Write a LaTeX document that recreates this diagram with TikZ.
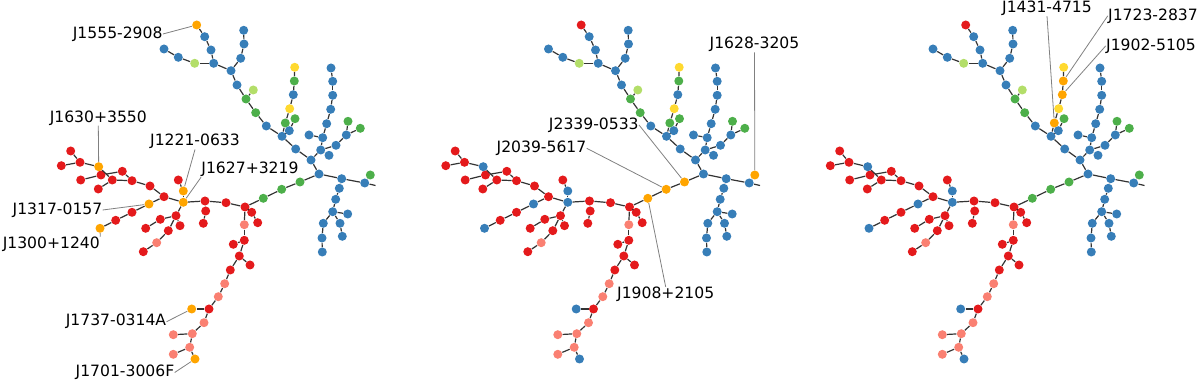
\documentclass[tikz,border=0pt]{standalone}
\usepackage{fontspec}
\setmainfont{DejaVu Sans}
\usetikzlibrary{positioning}
\definecolor{pBlue}{HTML}{377EB8}
\definecolor{pRed}{HTML}{E41A1C}
\definecolor{pGreen}{HTML}{4DAF4A}
\definecolor{pOrange}{HTML}{FFA500}
\definecolor{pYellow}{HTML}{FFD92F}
\definecolor{pLime}{HTML}{B3DE69}
\definecolor{pSalmon}{HTML}{FA8072}

\begin{document}
\begin{tikzpicture}[x=0.5pt,y=-0.5pt,
    dot/.style={circle,inner sep=0pt,minimum size=4.5pt},
    link/.style={line width=0.6pt,draw=black!80},
    leader/.style={line width=0.4pt,draw=black!50},
    tag/.style={inner sep=0pt,font=\fontsize{7.8}{9}\selectfont}
]
\useasboundingbox (0,0) rectangle (1200,384);
\foreach \p/\dx/\cA/\cB/\cC/\cG/\cH in {A/0/pOrange/pOrange/pGreen/pGreen/pBlue,
    B/384.5/pRed/pBlue/pOrange/pGreen/pBlue, C/769/pRed/pBlue/pGreen/pOrange/pOrange}{
\begin{scope}[shift={(\dx,0)}]
  \foreach \n/\x/\y/\col in {a1/196.7/25/\cA, a2/204.7/36.7/pBlue, a3/211/50/pBlue,
      a4/213.7/63.3/pBlue, a5/194.7/63.3/pLime, a6/178.3/57.3/pBlue, a7/164/49/pBlue,
      b1/243.7/30.3/pBlue, b2/244/44/pBlue, b3/240.7/58.3/pBlue, b4/231/70.7/pBlue,
      c1/237/85/pBlue, c2/246/99/pGreen, c3/253.3/90/pLime, c4/255.7/112.7/pGreen,
      c5/266.3/126/pBlue, c6/282/136.3/pBlue,
      d1/294.7/67.3/pYellow, d2/294.3/81/\cG, d3/293.3/94.7/\cH, d4/289.7/108.7/pYellow,
      d5/285.3/123/\cG, e1/295/118.7/pGreen, e2/289.3/130.7/pBlue,
      f1/295.7/149/pBlue, f2/311/160/pBlue, f3/319/174/pBlue,
      g1/331/68/pBlue, g2/332.7/81.3/pBlue, g3/332.7/95.3/pBlue, g4/330.7/109.3/pBlue,
      g5/326.7/123.7/pBlue, g6/322.7/137.7/pBlue, g7/320.7/150/pBlue,
      h1/309/135/pBlue, h2/329/155.3/pBlue,
      i1/336/145.3/pBlue, i2/346.3/135/pBlue, i3/348/121.3/pGreen, i4/360.3/128.3/pGreen,
      j1/341.7/178.7/pBlue, j2/339.3/188.3/pBlue, j3/364.7/183/pBlue, j4/370.3/175/\cC,
      j5/335.7/199.3/pBlue, j6/332.7/211.7/pBlue, j7/347.7/214/pBlue, j8/323.3/223.3/pBlue,
      j9/322/238/pBlue, j10/322.3/252/pBlue, j11/340/223.3/pBlue, j12/342.3/236.3/pBlue,
      k1/300/182/\cC, k2/281.7/189.3/\cC, k3/263.3/198.3/\cC,
      l1/245/207/pRed, l2/251.7/212.3/pRed, l3/257.7/222.7/pRed,
      m1/244.3/224.7/pSalmon, m2/244.3/240.3/pRed, m3/233.3/244.3/pRed, m4/239.3/256/pRed,
      m5/250/265/pRed, m6/230.3/270/pRed, m7/224.7/283.7/pSalmon, m8/218.3/296.7/pSalmon,
      m9/209/309/pRed, m10/191.7/309/\cB, m11/204/322.7/pSalmon, m12/192.3/333.7/pSalmon,
      m13/173.3/334.7/pSalmon, m14/189.7/347.3/pSalmon, m15/173.3/354.3/pSalmon,
      m16/195/359/\cB,
      n1/226/202.7/pRed, n2/205/201/pRed, n3/205.7/211/pRed, n4/203.3/223.3/pRed,
      p1/183.3/202.3/\cB, q1/183.3/191/\cB, q2/178.3/180/pRed,
      r1/164/196.7/pRed, r2/150/186/pRed, r3/132/180.7/pRed, r4/112.3/180/pRed,
      r5/122.3/171.3/pRed, r6/101/175/pRed, r7/80.7/180/pRed, r8/98.7/166.7/\cB,
      r9/80/162.3/pRed, r10/70.7/151/pRed, r11/61.3/165.7/pRed, r12/98.3/189/pRed,
      t0/149/204/\cB, t1/132/212.3/pRed, t2/115.7/220.3/pRed, t3/100/228.3/\cB,
      s1/176/215.7/pRed, s2/160.3/219.3/pRed, s3/145.7/228.3/pRed, s4/180/225.7/pRed,
      s5/168.3/230.7/pRed, s6/156.7/242.7/pSalmon, s7/143.3/251.7/pRed}
    \node[dot,fill=\col] (\p\n) at (\x,\y) {};
  \foreach \ea/\eb in {a1/a2, a2/a3, a3/a4, a4/a5, a5/a6, a6/a7, a4/b4, b1/b2, b2/b3, b3/b4,
      b4/c1, c1/c2, c2/c3, c2/c4, c4/c5, c5/c6, d1/d2, d2/d3, d3/d4, d4/d5, d5/c6,
      e1/e2, e2/c6, c6/f1, f1/f2, f2/f3, f2/g7, g1/g2, g2/g3, g3/g4, g4/g5, g5/g6, g6/g7,
      h1/g6, g7/h2, g7/i1, i1/i2, i2/i3, i2/i4, f3/j1, j1/j2, j2/j5, j5/j6, j6/j7, j6/j8,
      j8/j9, j9/j10, j6/j11, j11/j12, j1/j3, j3/j4, f3/k1, k1/k2, k2/k3, k3/l1,
      l1/l2, l2/l3, l1/m1, m1/m2, m2/m3, m2/m4, m4/m5, m4/m6, m6/m7, m7/m8, m8/m9,
      m9/m10, m9/m11, m11/m12, m12/m13, m12/m14, m14/m15, m14/m16,
      l1/n1, n1/n2, n2/n3, n3/n4, n2/p1, p1/q1, q1/q2, p1/r1, r1/r2, r2/r3, r3/r4,
      r3/r5, r5/r6, r6/r7, r4/r8, r8/r9, r9/r10, r9/r11, r4/r12, r1/t0, t0/t1, t1/t2,
      t2/t3, p1/s1, s1/s2, s2/s3, s1/s4, s1/s5, s5/s6, s6/s7}
    \draw[link] (\p\ea) -- (\p\eb);
  \coordinate (\p stub) at (375.5,185.5);
  \draw[link] (\p j3) -- (\p stub);
\end{scope}
}

\node[tag] (lab1555) at (117.7,34) {J1555-2908};
\node[tag] (lab1630) at (98.3,118) {J1630+3550};
\node[tag] (lab1221) at (195,141.7) {J1221-0633};
\node[tag] (lab1627) at (250,169.5) {J1627+3219};
\node[tag] (lab1317) at (57.5,210) {J1317-0157};
\node[tag] (lab1300) at (51.3,244.5) {J1300+1240};
\node[tag] (lab1737) at (116,321.7) {J1737-0314A};
\node[tag] (lab1701) at (125,372.5) {J1701-3006F};
\draw[leader] (lab1555.east) -- (Aa1);
\draw[leader] (lab1630.south) -- (Ar8);
\draw[leader] (lab1221.south) -- (Aq1);
\draw[leader] (lab1627.south west) -- (Ap1);
\draw[leader] (lab1317.east) -- (At0);
\draw[leader] (lab1300.north east) -- (At3);
\draw[leader] (lab1737.east) -- (Am10);
\draw[leader] (lab1701.east) -- (Am16);

\node[tag] (lab1628) at (754.5,44.7) {J1628-3205};
\node[tag] (lab2339) at (593.8,125) {J2339-0533};
\node[tag] (lab2039) at (541.5,148.3) {J2039-5617};
\node[tag] (lab1908) at (665.7,294.7) {J1908+2105};
\draw[leader] (lab1628.south) -- (Bj4);
\draw[leader] (lab2339.east) -- (Bk1);
\draw[leader] (lab2039.east) -- (Bk2);
\draw[leader] (lab1908.north) -- (Bk3);

\node[tag] (lab1431) at (1047,8.3) {J1431-4715};
\node[tag] (lab1723) at (1153,15.8) {J1723-2837};
\node[tag] (lab1902) at (1151,45.8) {J1902-5105};
\draw[leader] (lab1431.south) -- (Cd5);
\draw[leader] (lab1723.west) -- (Cd2);
\draw[leader] (lab1902.west) -- (Cd3);
\end{tikzpicture}
\end{document}
